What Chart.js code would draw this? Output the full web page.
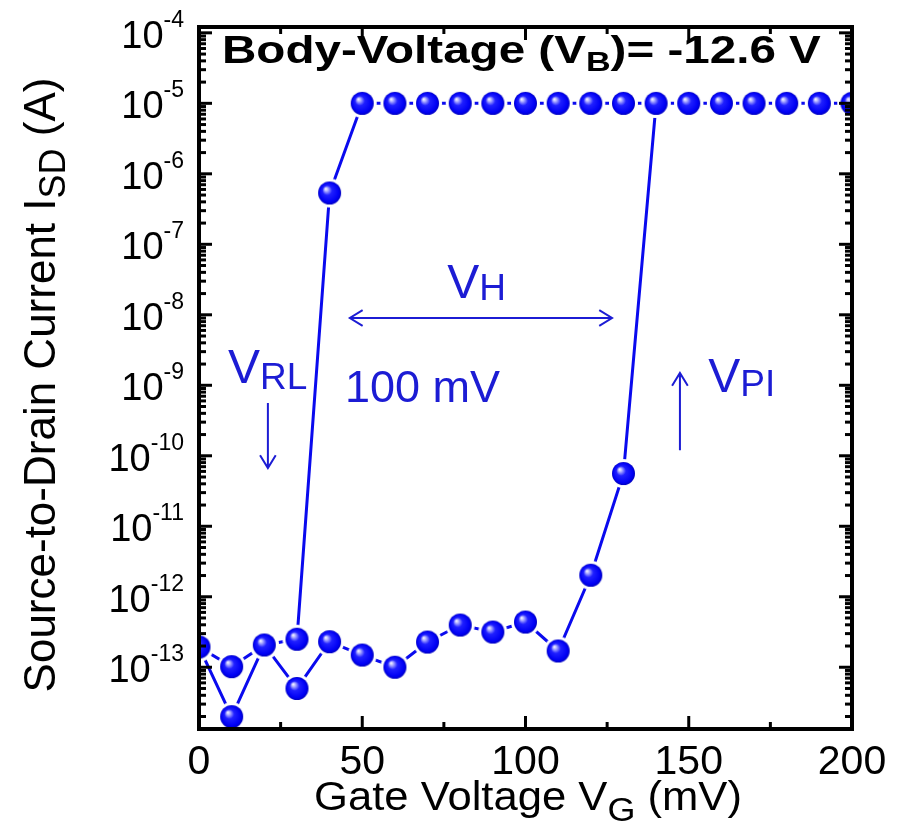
<!DOCTYPE html>
<html>
<head>
<meta charset="utf-8">
<script src="https://cdn.jsdelivr.net/npm/chart.js@4/dist/chart.umd.min.js"></script>
<style>
  html, body { margin: 0; padding: 0; background: #fff; }
  #contenedor { width: 901px; height: 830px; }
</style>
</head>
<body>
<div id="contenedor"><canvas id="histeresis" width="901" height="830"></canvas></div>
<script>
// Barrido de subida de la tensión de puerta (mV) y corriente fuente-drenador (A)
const vgSubida = [0, 10, 20, 30, 40, 50, 60, 70, 80, 90, 100, 110, 120, 130, 140, 150, 160, 170, 180, 190, 200];
const isdSubida = [1.94e-13, 1.99e-14, 2.07e-13, 5.0e-14, 2.3e-13, 1.49e-13, 1.0e-13, 2.28e-13, 3.97e-13, 3.16e-13,
                   4.38e-13, 1.70e-13, 2.02e-12, 5.6e-11, 1e-5, 1e-5, 1e-5, 1e-5, 1e-5, 1e-5, 1e-5];

// Barrido de bajada
const vgBajada = [200, 190, 180, 170, 160, 150, 140, 130, 120, 110, 100, 90, 80, 70, 60, 50, 40, 30, 20, 10, 0];
const isdBajada = [1e-5, 1e-5, 1e-5, 1e-5, 1e-5, 1e-5, 1e-5, 1e-5, 1e-5, 1e-5, 1e-5, 1e-5, 1e-5, 1e-5, 1e-5, 1e-5,
                   5.35e-7, 2.5e-13, 2.07e-13, 1.02e-13, 1.94e-13];

// Etiquetas de ejes
const ticksX = [0, 50, 100, 150, 200];
const decadasY = [-4, -5, -6, -7, -8, -9, -10, -11, -12, -13];

const AZUL_LINEA = '#0a0aee';
const AZUL_TEXTO = '#1c1cd4';
const FAMILIA = '"Liberation Sans", Arial, sans-serif';

// Marcador esférico con halo blanco (deja el hueco de la línea alrededor)
function crearEsfera(r, halo) {
    const s = Math.ceil((r + halo) * 2) + 2;
    const c = document.createElement('canvas');
    c.width = s; c.height = s;
    const g = c.getContext('2d');
    const m = s / 2;
    g.fillStyle = '#ffffff';
    g.beginPath(); g.arc(m, m, r + halo, 0, Math.PI * 2); g.fill();
    const grad = g.createRadialGradient(m - r * 0.35, m - r * 0.38, 0, m, m, r);
    grad.addColorStop(0, '#ffffff');
    grad.addColorStop(0.12, '#c8c8ff');
    grad.addColorStop(0.42, '#2020ff');
    grad.addColorStop(0.85, '#0000f4');
    grad.addColorStop(1, '#0000c0');
    g.fillStyle = grad;
    g.beginPath(); g.arc(m, m, r, 0, Math.PI * 2); g.fill();
    return c;
}
const esfera = crearEsfera(11.5, 3);

// Recorrido completo: subida y luego bajada
const puntos = vgSubida.map((v, i) => ({ x: v, y: isdSubida[i] }))
    .concat(vgBajada.map((v, i) => ({ x: v, y: isdBajada[i] })));

function fuente(tam, negrita) {
    return (negrita ? 'bold ' : '') + tam + 'px ' + FAMILIA;
}

// Texto con sub/superíndices: partes = [[texto, tamaño, dy, negrita], ...]
// sx estira el texto en horizontal
function textoCompuesto(ctx, partes, x, y, alinear, sx) {
    sx = sx || 1;
    let ancho = 0;
    partes.forEach(p => { ctx.font = fuente(p[1], p[3]); ancho += ctx.measureText(p[0]).width; });
    ancho *= sx;
    const x0 = alinear === 'center' ? x - ancho / 2 : (alinear === 'right' ? x - ancho : x);
    ctx.save();
    ctx.translate(x0, y);
    ctx.scale(sx, 1);
    ctx.textAlign = 'left';
    ctx.textBaseline = 'alphabetic';
    let cx = 0;
    partes.forEach(p => {
        ctx.font = fuente(p[1], p[3]);
        ctx.fillText(p[0], cx, p[2] || 0);
        cx += ctx.measureText(p[0]).width;
    });
    ctx.restore();
}

function flecha(ctx, x1, y1, x2, y2, cabeza) {
    const ang = Math.atan2(y2 - y1, x2 - x1);
    ctx.beginPath();
    ctx.moveTo(x1, y1); ctx.lineTo(x2, y2);
    ctx.moveTo(x2 - cabeza * Math.cos(ang - 0.55), y2 - cabeza * Math.sin(ang - 0.55));
    ctx.lineTo(x2, y2);
    ctx.lineTo(x2 - cabeza * Math.cos(ang + 0.55), y2 - cabeza * Math.sin(ang + 0.55));
    ctx.stroke();
}

// Anotaciones en coordenadas de datos
const notas = {
    vh: { x: 76, y: 1.73e-8 },
    flechaH: { x1: 46.2, x2: 126.5, y: 9.0e-9 },
    cienMv: { x: 44.7, y: 5.8e-10 },
    vrl: { x: 8.9, y: 1.08e-9 },
    flechaRL: { x: 21.1, y1: 5.6e-10, y2: 6.7e-11 },
    vpi: { x: 156.0, y: 8.0e-10 },
    flechaPI: { x: 147.3, y1: 1.2e-10, y2: 1.5e-9 }
};

// Marco, marcas hacia dentro y etiquetas
const marcoEjes = {
    id: 'marcoEjes',
    afterDatasetsDraw(chart) {
        const { ctx, chartArea: a, scales: { x, y } } = chart;
        ctx.save();
        ctx.strokeStyle = '#000';
        ctx.lineWidth = 3;
        const linea = (x1, y1, x2, y2) => { ctx.beginPath(); ctx.moveTo(x1, y1); ctx.lineTo(x2, y2); ctx.stroke(); };

        for (let v = 0; v <= 200; v += 25) {
            const px = x.getPixelForValue(v);
            const largo = v % 50 === 0 ? 13 : 7;
            linea(px, a.bottom, px, a.bottom - largo);
            linea(px, a.top, px, a.top + largo);
        }
        for (let e = -14; e <= -4; e++) {
            for (let m = 1; m <= 9; m++) {
                const v = m * Math.pow(10, e);
                if (v < y.min || v > y.max) continue;
                const py = y.getPixelForValue(v);
                const largo = m === 1 ? 13 : 7;
                linea(a.left, py, a.left + largo, py);
                linea(a.right, py, a.right - largo, py);
            }
        }
        ctx.lineWidth = 4;
        ctx.strokeRect(a.left, a.top, a.right - a.left, a.bottom - a.top);

        // etiquetas de los ejes
        ctx.fillStyle = '#000';
        ticksX.forEach(v => {
            textoCompuesto(ctx, [[String(v), 41, 0]], x.getPixelForValue(v), 774, 'center');
        });
        decadasY.forEach(e => {
            const py = y.getPixelForValue(Math.pow(10, e));
            textoCompuesto(ctx, [['10', 38, 15], [String(e), 23, -6]], 184, py, 'right');
        });

        textoCompuesto(ctx, [['Gate Voltage V', 40, 0], ['G', 33, 11], [' (mV)', 40, 0]], 528, 810, 'center', 1.09);

        ctx.save();
        ctx.translate(55, 385);
        ctx.rotate(-Math.PI / 2);
        textoCompuesto(ctx, [['Source-to-Drain Current I', 44, 0], ['SD', 36, 10], [' (A)', 44, 0]], 0, 0, 'center');
        ctx.restore();

        textoCompuesto(ctx, [['Body-Voltage (V', 39, 0, true], ['B', 28, 8, true], [')= -12.6 V', 39, 0, true]], 222, 63, 'left', 1.22);

        // anotaciones
        ctx.fillStyle = AZUL_TEXTO;
        ctx.strokeStyle = AZUL_TEXTO;
        ctx.lineWidth = 2;
        const px = v => x.getPixelForValue(v);
        const py = v => y.getPixelForValue(v);
        textoCompuesto(ctx, [['V', 48, 0], ['H', 37, 2]], px(notas.vh.x), py(notas.vh.y), 'left');
        const fh = notas.flechaH;
        flecha(ctx, px(fh.x1), py(fh.y), px(fh.x2), py(fh.y), 15);
        flecha(ctx, px(fh.x2), py(fh.y), px(fh.x1), py(fh.y), 15);
        textoCompuesto(ctx, [['100 mV', 45, 0]], px(notas.cienMv.x), py(notas.cienMv.y), 'left');
        textoCompuesto(ctx, [['V', 48, 0], ['RL', 37, 6]], px(notas.vrl.x), py(notas.vrl.y), 'left');
        const frl = notas.flechaRL;
        flecha(ctx, px(frl.x), py(frl.y1), px(frl.x), py(frl.y2), 15);
        textoCompuesto(ctx, [['V', 48, 0], ['PI', 37, 4]], px(notas.vpi.x), py(notas.vpi.y), 'left');
        const fpi = notas.flechaPI;
        flecha(ctx, px(fpi.x), py(fpi.y1), px(fpi.x), py(fpi.y2), 15);
        ctx.restore();
    }
};

new Chart(document.getElementById('histeresis').getContext('2d'), {
    type: 'line',
    data: {
        datasets: [{
            data: puntos,
            borderColor: AZUL_LINEA,
            borderWidth: 3,
            pointStyle: esfera,
            pointRadius: 12,
            pointHoverRadius: 12,
            tension: 0,
            fill: false,
            clip: 0
        }]
    },
    options: {
        responsive: false,
        animation: false,
        events: [],
        layout: { padding: { left: 199, right: 49, top: 27, bottom: 101 } },
        plugins: { legend: { display: false }, tooltip: { enabled: false } },
        scales: {
            x: { type: 'linear', min: 0, max: 200, display: false },
            y: { type: 'logarithmic', min: 1.33e-14, max: 1.21e-4, display: false }
        }
    },
    plugins: [marcoEjes]
});
</script>
</body>
</html>
